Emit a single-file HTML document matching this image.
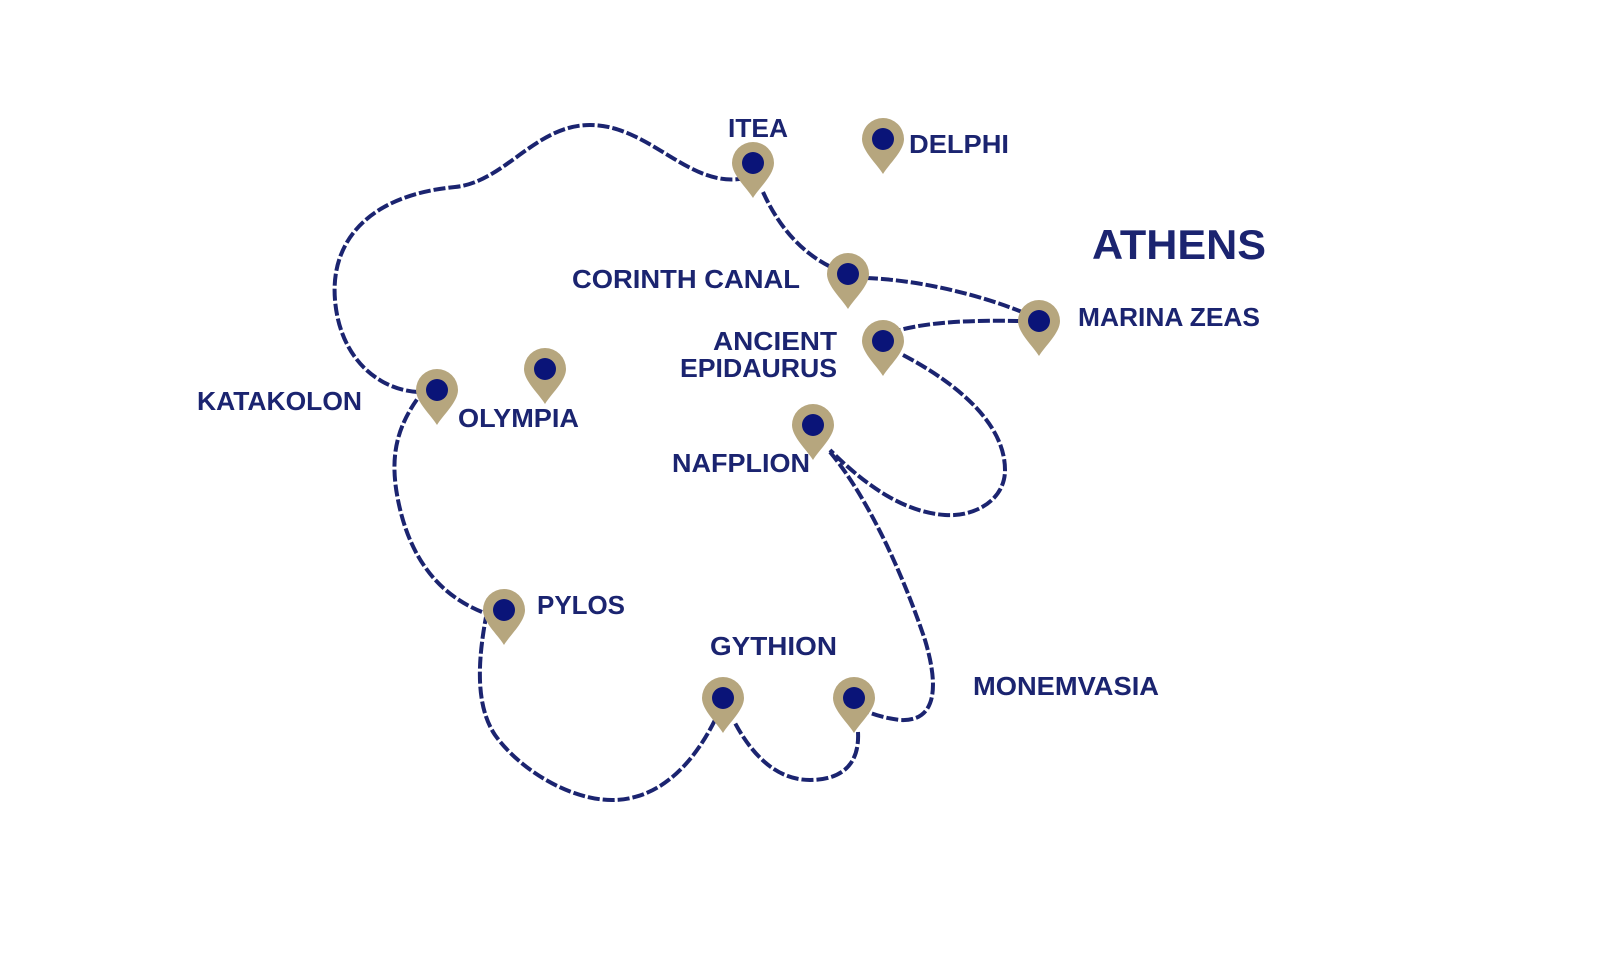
<!DOCTYPE html>
<html><head><meta charset="utf-8"><style>
html,body{margin:0;padding:0;background:#fff;}
svg{display:block}
text{font-family:"Liberation Sans",sans-serif;fill:#1b2470;font-weight:bold;}
</style></head><body>
<svg width="1600" height="955" viewBox="0 0 1600 955" xmlns="http://www.w3.org/2000/svg">
<defs>
<g id="pin">
<path d="M0,35 C-6,25 -21,12 -21,0 A21,21 0 1,1 21,0 C21,12 6,25 0,35 Z" fill="#b6a67e"/>
<circle r="11" fill="#0a1478"/>
</g>
</defs>
<g fill="none" stroke="#1b2470" stroke-width="4" stroke-dasharray="12 3">
<path d="M418,392 C380,390 340,360 335,300 C330,240 370,195 455,187 C505,182 535,125 590,125 C650,125 690,190 745,178"/>
<path d="M763,192 C780,230 805,255 833,268"/>
<path d="M866,278 C920,280 980,295 1022,312"/>
<path d="M1020,321 C970,320 930,322 900,330"/>
<path d="M903,355 C960,385 1005,425 1005,470 C1005,500 975,517 945,515 C900,512 860,480 830,450"/>
<path d="M830,452 C870,500 905,580 925,640 C940,690 935,722 900,720 C885,718 875,715 868,712"/>
<path d="M858,732 C860,770 835,780 810,780 C780,780 755,760 735,723"/>
<path d="M715,720 C690,770 655,800 612,800 C570,800 520,770 495,735 C475,705 478,660 486,617"/>
<path d="M482,612 C440,595 410,560 398,500 C390,460 395,430 418,398"/>
</g>
<use href="#pin" x="753" y="163"/>
<use href="#pin" x="883" y="139"/>
<use href="#pin" x="848" y="274"/>
<use href="#pin" x="1039" y="321"/>
<use href="#pin" x="883" y="341"/>
<use href="#pin" x="545" y="369"/>
<use href="#pin" x="437" y="390"/>
<use href="#pin" x="813" y="425"/>
<use href="#pin" x="504" y="610"/>
<use href="#pin" x="723" y="698"/>
<use href="#pin" x="854" y="698"/>
<g font-size="26">
<text x="728" y="137" textLength="60" lengthAdjust="spacingAndGlyphs">ITEA</text>
<text x="909" y="153" textLength="100" lengthAdjust="spacingAndGlyphs">DELPHI</text>
<text x="1092" y="259" font-size="42" textLength="174" lengthAdjust="spacingAndGlyphs">ATHENS</text>
<text x="572" y="288" textLength="228" lengthAdjust="spacingAndGlyphs">CORINTH CANAL</text>
<text x="1078" y="326" textLength="182" lengthAdjust="spacingAndGlyphs">MARINA ZEAS</text>
<text x="713" y="350" textLength="124" lengthAdjust="spacingAndGlyphs">ANCIENT</text>
<text x="680" y="377" textLength="157" lengthAdjust="spacingAndGlyphs">EPIDAURUS</text>
<text x="197" y="410" textLength="165" lengthAdjust="spacingAndGlyphs">KATAKOLON</text>
<text x="458" y="427" textLength="121" lengthAdjust="spacingAndGlyphs">OLYMPIA</text>
<text x="672" y="472" textLength="138" lengthAdjust="spacingAndGlyphs">NAFPLION</text>
<text x="537" y="614" textLength="88" lengthAdjust="spacingAndGlyphs">PYLOS</text>
<text x="710" y="655" textLength="127" lengthAdjust="spacingAndGlyphs">GYTHION</text>
<text x="973" y="695" textLength="186" lengthAdjust="spacingAndGlyphs">MONEMVASIA</text>
</g>
</svg>
</body></html>
